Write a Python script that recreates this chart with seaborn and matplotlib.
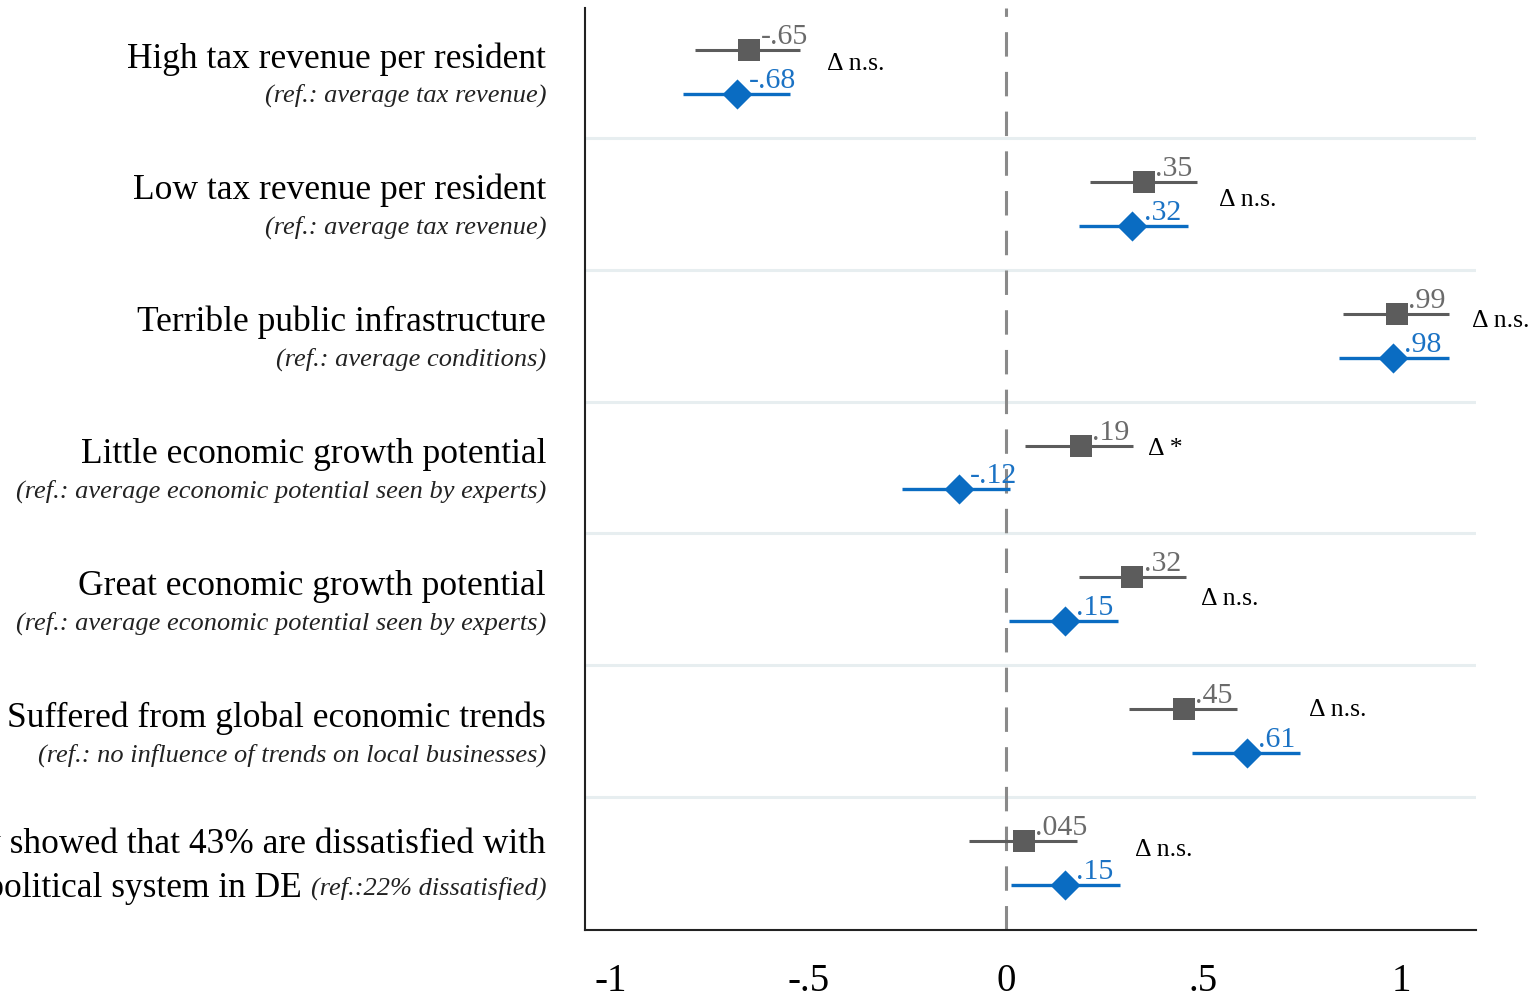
import numpy as np
import pandas as pd
import matplotlib
matplotlib.use('Agg')
import matplotlib.pyplot as plt
import seaborn as sns

# main labels (two lines each) and reference notes
main_labels = ['High tax revenue per resident',
               'Low tax revenue per resident',
               'Terrible public infrastructure',
               'Little economic growth potential',
               'Great economic growth potential',
               'Suffered from global economic trends',
               'A survey showed that 43% are dissatisfied with']
sub_labels = ['(ref.: average tax revenue)',
              '(ref.: average tax revenue)',
              '(ref.: average conditions)',
              '(ref.: average economic potential seen by experts)',
              '(ref.: average economic potential seen by experts)',
              '(ref.: no influence of trends on local businesses)',
              '(ref.:22% dissatisfied)']
last_line2 = 'the political system in DE'

# gray series (square) and blue series (diamond)
gray_coef = [-0.65, 0.35, 0.99, 0.19, 0.32, 0.45, 0.045]
gray_lo = [-0.787, 0.213, 0.853, 0.048, 0.185, 0.311, -0.094]
gray_hi = [-0.522, 0.484, 1.122, 0.322, 0.456, 0.585, 0.180]
gray_txt = ['-.65', '.35', '.99', '.19', '.32', '.45', '.045']

blue_coef = [-0.68, 0.32, 0.98, -0.12, 0.15, 0.61, 0.15]
blue_lo = [-0.818, 0.185, 0.843, -0.263, 0.008, 0.471, 0.013]
blue_hi = [-0.547, 0.461, 1.122, 0.010, 0.284, 0.744, 0.289]
blue_txt = ['-.68', '.32', '.98', '-.12', '.15', '.61', '.15']

# difference tests
delta_txt = ['Δ n.s.', 'Δ n.s.', 'Δ n.s.', 'Δ *', 'Δ n.s.', 'Δ n.s.', 'Δ n.s.']
delta_x = [-0.453, 0.539, 1.180, 0.359, 0.494, 0.767, 0.327]
delta_dy = [-0.06, -0.03, -0.11, -0.14, 0.0, -0.16, -0.10]

xticks = [-1, -0.5, 0, 0.5, 1]
xtick_labels = ['-1', '-.5', '0', '.5', '1']

GRAY = '#5c5c5c'
BLUE = '#0a6cc2'

sns.set_style('white')
plt.rcParams['font.family'] = ['Liberation Serif', 'DejaVu Serif']
plt.rcParams['text.color'] = '#111111'

rows = np.arange(len(main_labels))
off = 22 / 132

df = pd.DataFrame({
    'row': np.concatenate([rows - off, rows + off]),
    'coef': gray_coef + blue_coef,
    'lo': gray_lo + blue_lo,
    'hi': gray_hi + blue_hi,
    'series': ['gray'] * len(rows) + ['blue'] * len(rows),
})
dg = df[df['series'] == 'gray']
db = df[df['series'] == 'blue']

fig = plt.figure(figsize=(15.31, 9.94), dpi=100)
ax = fig.add_axes([585 / 1531, 1 - 930 / 994, (1476 - 585) / 1531, (930 - 8) / 994])

# light separators between rows
for g in rows[:-1] + 0.5:
    ax.axhline(g, color='#e7eef0', lw=2.2, zorder=0)

ax.axvline(0, color='#8a8a8a', lw=2.2, ls=(0, (8, 5)), zorder=1)

ax.hlines(dg['row'], dg['lo'], dg['hi'], color=GRAY, lw=2.2, zorder=2)
ax.hlines(db['row'], db['lo'], db['hi'], color=BLUE, lw=2.4, zorder=2)

sns.scatterplot(data=dg, x='coef', y='row', marker='s', s=270, color=GRAY,
                edgecolor=GRAY, linewidth=0, ax=ax, zorder=3, legend=False)
sns.scatterplot(data=db, x='coef', y='row', marker='D', s=235, color=BLUE,
                edgecolor=BLUE, linewidth=0, ax=ax, zorder=3, legend=False)

# value labels
for x, y, t in zip(dg['coef'], dg['row'], gray_txt):
    ax.annotate(t, (x, y), xytext=(8, 0), textcoords='offset points',
                ha='left', va='bottom', fontsize=21.5, color='#6a6a6a', zorder=4)
for x, y, t in zip(db['coef'], db['row'], blue_txt):
    ax.annotate(t, (x, y), xytext=(8, 0), textcoords='offset points',
                ha='left', va='bottom', fontsize=21.5, color='#1a72c4', zorder=4)

for r, x, dy, t in zip(rows, delta_x, delta_dy, delta_txt):
    ax.text(x, r + dy, t, ha='left', va='center', fontsize=18.5, color='black',
            clip_on=False)

ax.set_xlim(-1.066, 1.19)
ax.set_ylim(6.508, -0.485)
ax.set_xticks(xticks)
ax.set_xticklabels(xtick_labels, fontsize=28)
ax.set_yticks(rows)
ax.set_yticklabels([''] * len(rows))
ax.tick_params(axis='x', direction='out', length=14, width=1.5, pad=10, colors='black')
ax.tick_params(axis='y', direction='out', length=12, width=1.5, colors='black')
ax.set_xlabel('')
ax.set_ylabel('')

sns.despine(ax=ax, top=True, right=True)
for s in ['left', 'bottom']:
    ax.spines[s].set_linewidth(1.5)
    ax.spines[s].set_color('#222222')

# row labels on the left
xl = (546 - 1006) / 395
for r in rows[:-1]:
    ax.text(xl, r - 0.1, main_labels[r], ha='right', va='center', fontsize=25.5,
            color='black', clip_on=False)
    ax.text(xl, r + 0.18, sub_labels[r], ha='right', va='center', fontsize=19,
            style='italic', color='#222222', clip_on=False)

r = rows[-1]
ax.text(xl, r - 0.14, main_labels[r], ha='right', va='center', fontsize=25.5,
        color='black', clip_on=False)
it = ax.text(xl, r + 0.19, sub_labels[r], ha='right', va='center', fontsize=19,
             style='italic', color='#222222', clip_on=False)
fig.canvas.draw()
bb = it.get_window_extent(renderer=fig.canvas.get_renderer())
x0 = ax.transData.inverted().transform((bb.x0 - 9, 0))[0]
ax.text(x0, r + 0.19, last_line2, ha='right', va='center', fontsize=25.5,
        color='black', clip_on=False)

fig.savefig('out.png', dpi=100)
